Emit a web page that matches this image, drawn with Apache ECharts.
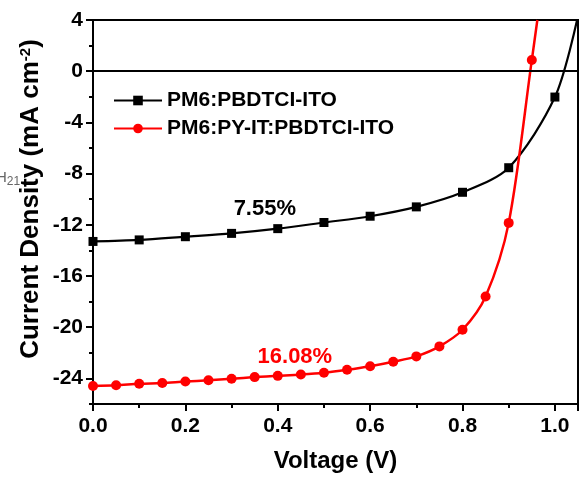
<!DOCTYPE html>
<html>
<head>
<meta charset="utf-8">
<script src="https://cdn.jsdelivr.net/npm/echarts@6/dist/echarts.min.js"></script>
<style>
  html, body { margin: 0; padding: 0; background: #fff; }
  #main { width: 579px; height: 478px; }
</style>
</head>
<body>
<div id="main"></div>
<script>
// J-V curves
var seriesNames = ['PM6:PBDTCI-ITO', 'PM6:PY-IT:PBDTCI-ITO'];

var voltsA = [0, 0.1, 0.2, 0.3, 0.4, 0.5, 0.6, 0.7, 0.8, 0.9, 1.0];
var jscA   = [-13.3, -13.18, -12.93, -12.67, -12.3, -11.82, -11.33, -10.6, -9.46, -7.54, -2.02];
var tailA  = [1.048, 4];   // line runs off the top-right corner

var voltsB = [0, 0.05, 0.1, 0.15, 0.2, 0.25, 0.3, 0.35, 0.4, 0.45, 0.5,
              0.55, 0.6, 0.65, 0.7, 0.75, 0.8, 0.85, 0.9, 0.95];
var jscB   = [-24.6, -24.54, -24.42, -24.36, -24.24, -24.15, -24.03, -23.9, -23.8, -23.7, -23.56,
              -23.33, -23.05, -22.7, -22.28, -21.5, -20.2, -17.6, -11.85, 0.87];
var tailB  = [0.962, 4];

var yMajor = [-24, -20, -16, -12, -8, -4, 0, 4];

var effLabels = ['7.55%', '16.08%'];
var effPos = [[0.372, -10.77], [0.437, -22.3]];

var FONT = 'Arial, "Liberation Sans", sans-serif';

function toPoints(xs, ys, tail) {
  var out = [];
  for (var i = 0; i < xs.length; i++) out.push([xs[i], ys[i]]);
  out.push({ value: tail, symbol: 'none' });
  return out;
}

var myChart = echarts.init(document.getElementById('main'), null, { renderer: 'canvas' });

var option = {
  backgroundColor: '#fff',
  animation: false,
  grid: {
    left: 93, top: 20, right: 1, bottom: 68,
    show: true, borderColor: '#000', borderWidth: 2, backgroundColor: 'transparent'
  },
  legend: {
    orient: 'vertical',
    left: 108, top: 85,
    itemWidth: 48, itemHeight: 12, itemGap: 7,
    data: seriesNames,
    textStyle: { fontFamily: FONT, fontWeight: 'bold', fontSize: 21, color: '#000' }
  },
  xAxis: {
    type: 'value',
    min: 0, max: 1.05, interval: 0.2,
    axisLine: { onZero: false, lineStyle: { color: '#000', width: 2 } },
    axisTick: { inside: false, length: 7, lineStyle: { color: '#000', width: 2 } },
    minorTick: { show: true, splitNumber: 2, length: 4, lineStyle: { color: '#000', width: 2 } },
    splitLine: { show: false },
    axisLabel: {
      margin: 12, showMaxLabel: false,
      fontFamily: FONT, fontWeight: 'bold', fontSize: 21, color: '#000',
      formatter: function (v) { return v.toFixed(1); }
    },
    name: 'Voltage (V)', nameLocation: 'middle', nameGap: 45,
    nameTextStyle: { fontFamily: FONT, fontWeight: 'bold', fontSize: 24, color: '#000' }
  },
  yAxis: [
    {
      type: 'value',
      min: -26, max: 4, interval: 2,
      axisLine: { onZero: false, lineStyle: { color: '#000', width: 2 } },
      axisTick: { inside: false, length: 7, customValues: yMajor, lineStyle: { color: '#000', width: 2 } },
      splitLine: { show: false },
      axisLabel: {
        margin: 10, customValues: yMajor,
        fontFamily: FONT, fontWeight: 'bold', fontSize: 21, color: '#000'
      }
    },
    {
      // short ticks every 2 units
      type: 'value', position: 'left', offset: 0,
      min: -26, max: 4, interval: 2,
      axisLine: { show: false },
      axisTick: { show: true, inside: false, length: 4, lineStyle: { color: '#000', width: 2 } },
      axisLabel: { show: false },
      splitLine: { show: false }
    }
  ],
  series: [
    {
      name: seriesNames[0],
      type: 'line',
      data: toPoints(voltsA, jscA, tailA),
      smooth: 0.3,
      symbol: 'rect', symbolSize: 9,
      itemStyle: { color: '#000' },
      lineStyle: { color: '#000', width: 2.2 },
      clip: true,
      z: 3,
      markLine: {
        silent: true, symbol: 'none', label: { show: false },
        lineStyle: { color: '#000', width: 2, type: 'solid' },
        data: [{ yAxis: 0 }]
      }
    },
    {
      name: seriesNames[1],
      type: 'line',
      data: toPoints(voltsB, jscB, tailB),
      smooth: 0.3,
      symbol: 'circle', symbolSize: 10,
      itemStyle: { color: '#ff0000' },
      lineStyle: { color: '#ff0000', width: 2.5 },
      clip: true,
      z: 4
    }
  ]
};

myChart.setOption(option);

// annotations + y title, placed from data coords
var p1 = myChart.convertToPixel({ gridIndex: 0 }, effPos[0]);
var p2 = myChart.convertToPixel({ gridIndex: 0 }, effPos[1]);
myChart.setOption({
  graphic: [
    {
      type: 'text', x: p1[0], y: p1[1],
      style: { text: effLabels[0], fill: '#000', font: 'bold 22px ' + FONT, align: 'center', verticalAlign: 'middle' }
    },
    {
      type: 'text', x: p2[0], y: p2[1],
      style: { text: effLabels[1], fill: '#ff0000', font: 'bold 22px ' + FONT, align: 'center', verticalAlign: 'middle' }
    },
    {
      type: 'text', x: 31, y: 199, rotation: Math.PI / 2,
      style: {
        text: '{a|Current Density (mA cm}{b|-2}{a|)}',
        align: 'center', verticalAlign: 'middle',
        rich: {
          a: { fontFamily: FONT, fontWeight: 'bold', fontSize: 26, fill: '#000', color: '#000' },
          b: { fontFamily: FONT, fontWeight: 'bold', fontSize: 15, fill: '#000', color: '#000', verticalAlign: 'top', padding: [0, 0, 10, 0] }
        }
      }
    },
    {
      type: 'text', x: -4, y: 178,
      style: {
        text: '{h|H}{s|21}', verticalAlign: 'middle',
        rich: {
          h: { fontFamily: FONT, fontSize: 15, fill: '#666', color: '#666' },
          s: { fontFamily: FONT, fontSize: 12, fill: '#666', color: '#666', padding: [8, 0, 0, 0] }
        }
      }
    }
  ]
});
</script>
</body>
</html>
